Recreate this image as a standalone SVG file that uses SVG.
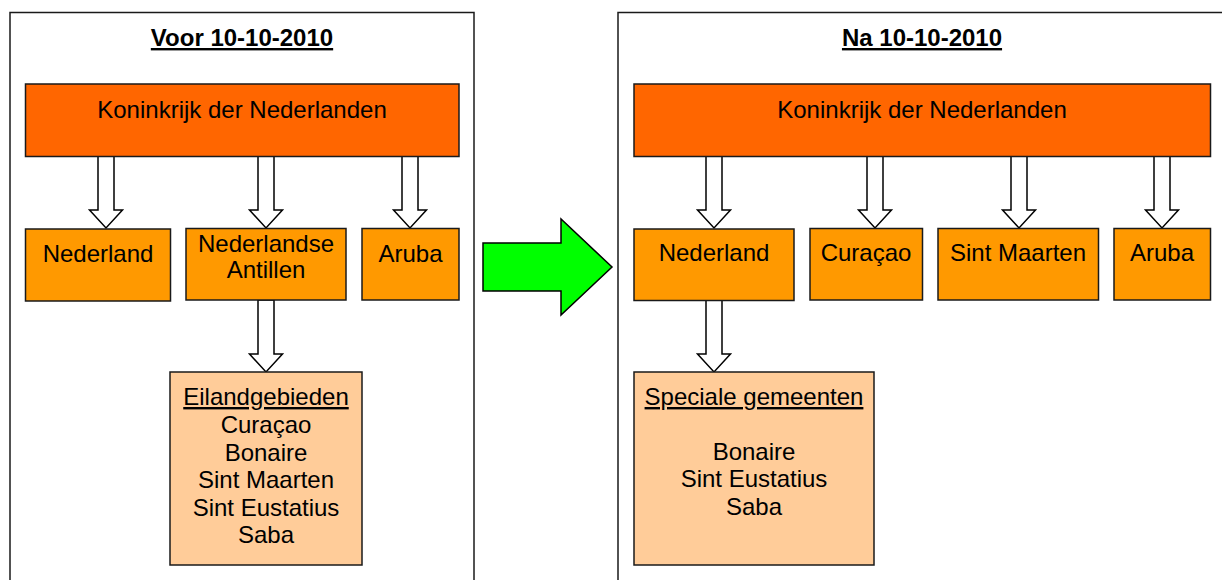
<svg xmlns="http://www.w3.org/2000/svg" width="1222" height="580" viewBox="0 0 1222 580">
  <style>
    text { font-family: "Liberation Sans", Arial, sans-serif; font-size: 24px; fill: #000; text-anchor: middle; }
    .title { font-weight: bold; text-decoration: underline; }
    .u { text-decoration: underline; }
    .panel { fill: #fff; stroke: #1a1a1a; stroke-width: 1.5; }
    .kingdom { fill: #FF6600; stroke: #1a1a1a; stroke-width: 1.5; }
    .country { fill: #FF9900; stroke: #1a1a1a; stroke-width: 1.5; }
    .island { fill: #FFCC99; stroke: #1a1a1a; stroke-width: 1.5; }
    .down { fill: #fff; stroke: #000; stroke-width: 1.5; stroke-linejoin: miter; }
    .big { fill: #00FF00; stroke: #000; stroke-width: 1.5; }
  </style>
  <defs>
    <!-- hollow block arrow pointing down; origin at the tip -->
    <path id="downArrow" d="M -8 -72 L -8 -18 L -16.5 -18 L 0 0 L 16.5 -18 L 8 -18 L 8 -72 Z"/>
  </defs>

  <rect width="1222" height="580" fill="#fff"/>

  <!-- panels -->
  <g id="panel-voor">
    <rect class="panel" x="10" y="12.5" width="464" height="600"/>
    <text class="title" x="242" y="46">Voor 10-10-2010</text>
  </g>
  <g id="panel-na">
    <rect class="panel" x="618" y="12.5" width="640" height="600"/>
    <text class="title" x="922" y="46">Na 10-10-2010</text>
  </g>

  <!-- connectors -->
  <g id="connectors">
    <use href="#downArrow" class="down" x="106" y="228"/>
    <use href="#downArrow" class="down" x="266" y="228"/>
    <use href="#downArrow" class="down" x="410" y="228"/>
    <use href="#downArrow" class="down" x="266" y="372"/>
    <use href="#downArrow" class="down" x="714" y="228"/>
    <use href="#downArrow" class="down" x="875" y="228"/>
    <use href="#downArrow" class="down" x="1019" y="228"/>
    <use href="#downArrow" class="down" x="1162" y="228"/>
    <use href="#downArrow" class="down" x="714" y="372"/>
    <polygon id="transition" class="big" points="483,243 561,243 561,219 612,267 561,315 561,291 483,291"/>
  </g>

  <!-- before 10-10-2010 -->
  <g id="koninkrijk-voor">
    <rect class="kingdom" x="25.5" y="84" width="433.5" height="72.5"/>
    <text x="242" y="118">Koninkrijk der Nederlanden</text>
  </g>
  <g id="nederland-voor">
    <rect class="country" x="25.5" y="229" width="145" height="72"/>
    <text x="98" y="262">Nederland</text>
  </g>
  <g id="antillen">
    <rect class="country" x="186" y="228.5" width="160" height="71.5"/>
    <text x="266" y="252">Nederlandse</text>
    <text x="266" y="278">Antillen</text>
  </g>
  <g id="aruba-voor">
    <rect class="country" x="362" y="228.5" width="97" height="71.5"/>
    <text x="410.5" y="262">Aruba</text>
  </g>
  <g id="eilandgebieden">
    <rect class="island" x="170" y="372" width="192" height="193"/>
    <text class="u" x="266" y="405">Eilandgebieden</text>
    <text x="266" y="433">Curaçao</text>
    <text x="266" y="461">Bonaire</text>
    <text x="266" y="488">Sint Maarten</text>
    <text x="266" y="516">Sint Eustatius</text>
    <text x="266" y="543">Saba</text>
  </g>

  <!-- after 10-10-2010 -->
  <g id="koninkrijk-na">
    <rect class="kingdom" x="634" y="84" width="576.5" height="72.5"/>
    <text x="922" y="118">Koninkrijk der Nederlanden</text>
  </g>
  <g id="nederland-na">
    <rect class="country" x="634" y="229" width="160" height="71.5"/>
    <text x="714" y="261">Nederland</text>
  </g>
  <g id="curacao">
    <rect class="country" x="810" y="228.5" width="112.5" height="71.5"/>
    <text x="866" y="261">Curaçao</text>
  </g>
  <g id="sint-maarten">
    <rect class="country" x="938" y="228.5" width="160.5" height="71.5"/>
    <text x="1018" y="261">Sint Maarten</text>
  </g>
  <g id="aruba-na">
    <rect class="country" x="1114" y="228.5" width="96.5" height="71.5"/>
    <text x="1162" y="261">Aruba</text>
  </g>
  <g id="speciale-gemeenten">
    <rect class="island" x="634" y="372" width="240" height="193"/>
    <text class="u" x="754" y="405">Speciale gemeenten</text>
    <text x="754" y="460">Bonaire</text>
    <text x="754" y="487">Sint Eustatius</text>
    <text x="754" y="515">Saba</text>
  </g>
</svg>
